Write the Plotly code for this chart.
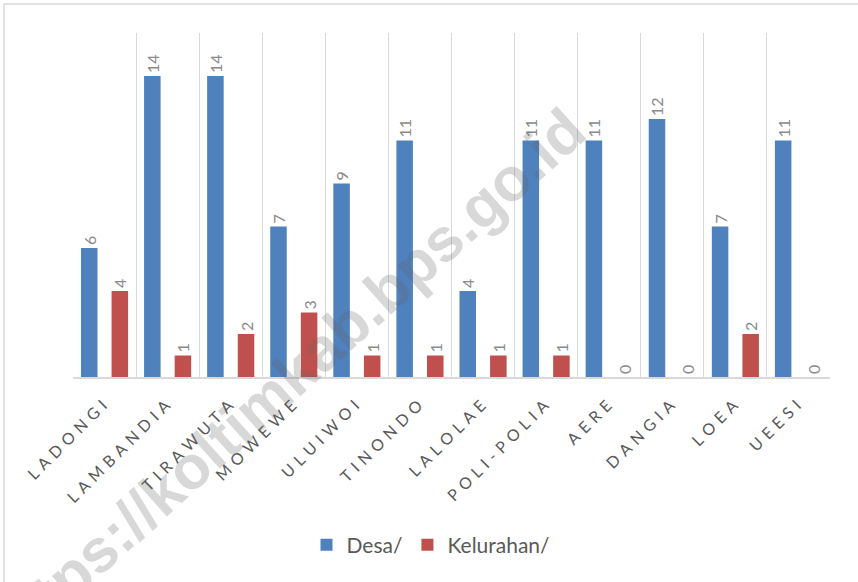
import plotly.graph_objects as go

categories = ["LADONGI", "LAMBANDIA", "TIRAWUTA", "MOWEWE", "ULUIWOI", "TINONDO",
              "LALOLAE", "POLI-POLIA", "AERE", "DANGIA", "LOEA", "UEESI"]
desa = [6, 14, 14, 7, 9, 11, 4, 11, 11, 12, 7, 11]
kelurahan = [4, 1, 2, 3, 1, 1, 1, 1, 0, 0, 2, 0]
series_names = ["Desa/", "Kelurahan/"]
watermark = "https://koltimkab.bps.go.id"

W, H = 858, 582
L, R, T, B = 73, 28, 33, 205
pw, ph = W - L - R, H - T - B

def px_x(x):
    return (x - L) / pw

def px_y(y):
    return (H - B - y) / ph

# spaced labels to mimic the wide letter spacing of the original
tick_text = ["\u2004".join(list(c)) for c in categories]

fig = go.Figure()
common = dict(textposition="outside", textangle=-90, cliponaxis=False,
              constraintext="none",
              textfont=dict(family="Lato, Open Sans, sans-serif", size=16, color="#8a8a8a"))
fig.add_trace(go.Bar(x=categories, y=desa, name=series_names[0],
                     marker=dict(color="#4F81BD", line=dict(width=0)),
                     text=[str(v) for v in desa], **common))
fig.add_trace(go.Bar(x=categories, y=kelurahan, name=series_names[1],
                     marker=dict(color="#C0504D", line=dict(width=0)),
                     text=[str(v) for v in kelurahan], **common))

fig.update_layout(
    width=W, height=H,
    margin=dict(l=L, r=R, t=T, b=B, autoexpand=False),
    paper_bgcolor="white", plot_bgcolor="white",
    barmode="group", bargap=0.03, bargroupgap=0.46,
    showlegend=True,
    legend=dict(orientation="h", x=px_x(431), y=px_y(545), xanchor="center", yanchor="middle",
                font=dict(family="Lato, Open Sans, sans-serif", size=21, color="#595959"),
                itemwidth=30, traceorder="normal"),
    xaxis=dict(type="category", tickmode="array", tickvals=categories, ticktext=tick_text,
               tickangle=-45, tickson="boundaries", ticks="", showgrid=True,
               gridcolor="#D9D9D9", gridwidth=1, automargin=False,
               ticklabelshift=-2, ticklabelstandoff=11,
               showline=True, linecolor="#D9D9D9", linewidth=2,
               tickfont=dict(family="Lato, Open Sans, sans-serif", size=16, color="#595959")),
    yaxis=dict(range=[0, 16], visible=False, showgrid=False, zeroline=False, automargin=False),
    shapes=[dict(type="rect", xref="paper", yref="paper",
                 x0=px_x(4), x1=px_x(900), y0=px_y(650), y1=px_y(4),
                 line=dict(color="#D9D9D9", width=1.5), fillcolor="rgba(0,0,0,0)", layer="below")],
    annotations=[dict(text="<b>" + watermark + "</b>", xref="paper", yref="paper",
                      x=px_x(287), y=px_y(380), xanchor="center", yanchor="middle",
                      showarrow=False, textangle=-42,
                      font=dict(family="Liberation Sans, Arial, sans-serif", size=61,
                                color="rgba(100,100,100,0.25)"))],
)

fig.write_html("out.html", config={"displayModeBar": False},
               post_script="document.body.style.margin='0';")
